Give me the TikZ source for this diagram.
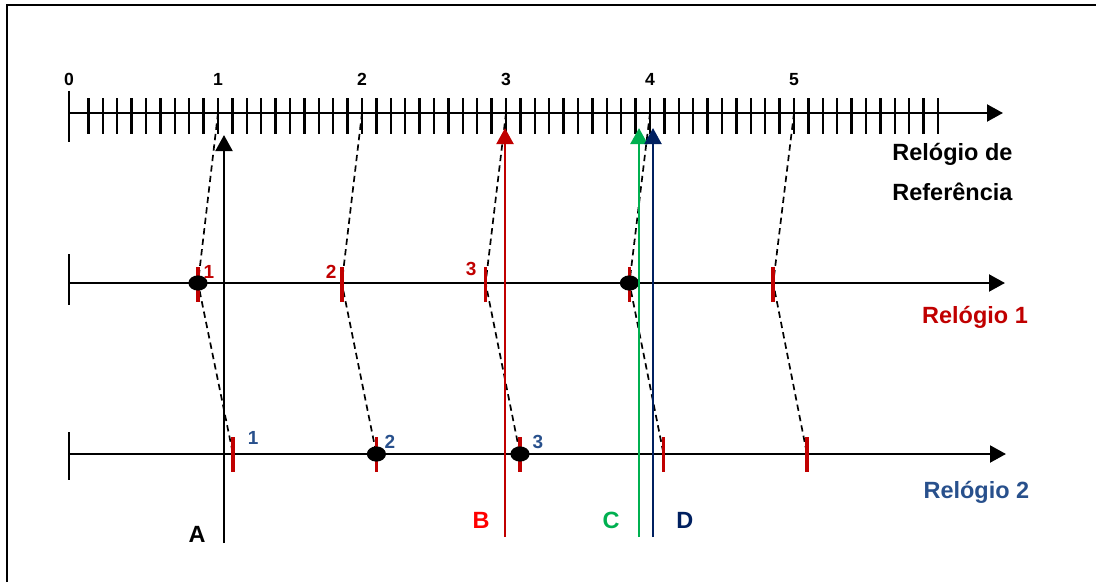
\documentclass[tikz,border=0pt]{standalone}
\usepackage{fontspec}
\setmainfont{Liberation Sans}
\usetikzlibrary{arrows.meta,shapes.geometric}
\definecolor{tickred}{HTML}{C00000}
\definecolor{brightred}{HTML}{FF0000}
\definecolor{clockblue}{HTML}{28508C}
\definecolor{navy}{HTML}{002060}
\definecolor{eventgreen}{HTML}{00B050}
\begin{document}
\begin{tikzpicture}[
    >={Triangle[length=0.4cm,width=0.42cm]},
    axis/.style={line width=1.9pt},
    minortick/.style={line width=1.8pt},
    redmark/.style={line width=2.5pt, tickred},
    guide/.style={line width=1.2pt, dash pattern=on 4.5pt off 3pt},
    dot/.style={ellipse, fill=black, minimum width=0.48cm, minimum height=0.38cm, inner sep=0pt},
    biglabel/.style={font=\fontsize{16.7}{20}\selectfont\bfseries, inner sep=0pt, anchor=base},
    digit/.style={font=\fontsize{12.5}{14}\selectfont\bfseries, inner sep=0pt, anchor=base},
    marklabel/.style={font=\fontsize{13.5}{15}\selectfont\bfseries, inner sep=0pt, anchor=base},
    event/.style={->, line width=1.9pt}
]
\useasboundingbox (0,0) rectangle (27.4,-14.55);
\draw[line width=1.9pt] (0.175,-14.55) |- (27.4,-0.125);

% reference clock
\coordinate (ref0) at (1.725,-2.825);
\coordinate (refend) at (25.075,-2.825);
\coordinate (ref1) at (5.45,-2.825);
\coordinate (ref2) at (9.05,-2.825);
\coordinate (ref3) at (12.65,-2.825);
\coordinate (ref4) at (16.25,-2.825);
\coordinate (ref5) at (19.85,-2.825);

% clock 1 and clock 2
\coordinate (r1start) at (1.725,-7.075);
\coordinate (r1end) at (25.125,-7.075);
\coordinate (r2start) at (1.725,-11.35);
\coordinate (r2end) at (25.15,-11.35);
\coordinate (c11) at (4.95,-7.075);
\coordinate (c12) at (8.545,-7.075);
\coordinate (c13) at (12.14,-7.075);
\coordinate (c14) at (15.735,-7.075);
\coordinate (c15) at (19.33,-7.075);
\coordinate (c21) at (5.825,-11.35);
\coordinate (c22) at (9.41,-11.35);
\coordinate (c23) at (13.0,-11.35);
\coordinate (c24) at (16.59,-11.35);
\coordinate (c25) at (20.175,-11.35);

% dashed correspondences
\foreach \k in {1,...,5}
    \draw[guide] (ref\k) -- (c1\k) -- (c2\k);

\draw[axis,->] (ref0) -- (refend);
\draw[axis] (1.725,-2.275) -- (1.725,-3.55);
\foreach \k in {1,...,60}
    \draw[minortick] (1.85+0.36*\k,-2.45) -- ++(0,-0.9);

\draw[axis,->] (r1start) -- (r1end);
\draw[axis] (1.725,-6.35) -- (1.725,-7.625);
\draw[axis,->] (r2start) -- (r2end);
\draw[axis] (1.725,-10.8) -- (1.725,-12.0);

\foreach \k in {1,...,5} {
    \draw[redmark] ([yshift=0.4cm]c1\k) -- ([yshift=-0.475cm]c1\k);
    \draw[redmark] ([yshift=0.425cm]c2\k) -- ([yshift=-0.45cm]c2\k);
}

\node[dot] (dot11) at (c11) {};
\node[dot] (dot14) at (c14) {};
\node[dot] (dot22) at (c22) {};
\node[dot] (dot23) at (c23) {};

% events
\coordinate (Abot) at (5.6,-13.575);
\coordinate (Atop) at (5.6,-3.375);
\coordinate (Bbot) at (12.625,-13.425);
\coordinate (Btop) at (12.625,-3.2);
\coordinate (Cbot) at (15.975,-13.425);
\coordinate (Ctop) at (15.975,-3.2);
\coordinate (Dbot) at (16.325,-13.425);
\coordinate (Dtop) at (16.325,-3.2);
\draw[event] (Abot) -- (Atop);
\draw[event, tickred] (Bbot) -- (Btop);
\draw[event, eventgreen, line width=2.1pt] (Cbot) -- (Ctop);
\draw[event, navy] (Dbot) -- (Dtop);

% labels
\node[digit] (lab0) at (1.725,-2.125) {0};
\node[digit] (lab1) at (5.45,-2.125) {1};
\node[digit] (lab2) at (9.05,-2.125) {2};
\node[digit] (lab3) at (12.65,-2.125) {3};
\node[digit] (lab4) at (16.25,-2.125) {4};
\node[digit] (lab5) at (19.85,-2.125) {5};

\node[marklabel, tickred] (m11) at (5.225,-6.95) {1};
\node[marklabel, tickred] (m12) at (8.28,-6.95) {2};
\node[marklabel, tickred] (m13) at (11.78,-6.875) {3};
\node[marklabel, clockblue] (m21) at (6.33,-11.1) {1};
\node[marklabel, clockblue] (m22) at (9.75,-11.2) {2};
\node[marklabel, clockblue] (m23) at (13.45,-11.2) {3};

\node[biglabel] (refname1) at (23.81,-4.0) {Relógio de};
\node[biglabel] (refname2) at (23.81,-5.0) {Referência};
\node[biglabel, tickred] (clock1) at (24.375,-8.075) {Relógio 1};
\node[biglabel, clockblue] (clock2) at (24.41,-12.45) {Relógio 2};

\node[biglabel] (labA) at (4.925,-13.55) {A};
\node[biglabel, brightred] (labB) at (12.03,-13.2) {B};
\node[biglabel, eventgreen] (labC) at (15.28,-13.2) {C};
\node[biglabel, navy] (labD) at (17.12,-13.2) {D};
\end{tikzpicture}
\end{document}
